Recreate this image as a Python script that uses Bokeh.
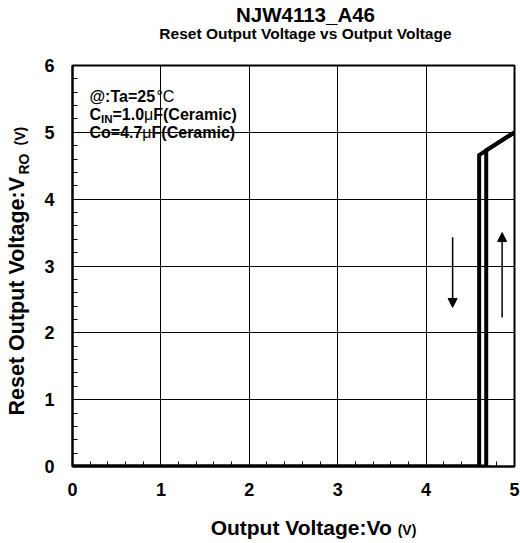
import math
from bokeh.plotting import figure
from bokeh.layouts import row, column
from bokeh.models import Range1d, SingleIntervalTicker, Label, Arrow, NormalHead
from bokeh.embed import file_html
from bokeh.resources import INLINE

# ---- data ----
title_text = "NJW4113_A46"
subtitle_text = "Reset Output Voltage vs Output Voltage"
x_label_text = "Output Voltage:Vo"
y_label_main = "Reset Output Voltage:V"
y_label_sub = "RO"
unit_text = "(V)"
cond_line1 = ["@:Ta=25", "°C"]
cond_line2 = ["C", "IN", "=1.0", "μ", "F(Ceramic)"]
cond_line3 = ["Co=4.7", "μ", "F(Ceramic)"]

x_range = [0, 5]
y_range = [0, 6]

# falling output voltage sweep (reset asserted at lower threshold)
vo_fall = [5.0, 4.60, 4.60, 0.0]
vro_fall = [5.0, 4.66, 0.0, 0.0]
# rising output voltage sweep (reset released at upper threshold)
vo_rise = [0.0, 4.68, 4.68, 5.0]
vro_rise = [0.0, 0.0, 4.73, 5.0]

# direction arrows
arrow_down_x = [4.30, 4.30]
arrow_down_y = [3.43, 2.38]
arrow_up_x = [4.86, 4.86]
arrow_up_y = [2.23, 3.50]

FONT = "Liberation Sans"

# ---- layout sizes (pixels) ----
W, H = 520, 543
LEFT_W = 40
TOP_H = 50
BOT_H = 33
MAIN_W = W - LEFT_W
MAIN_H = H - TOP_H - BOT_H
MID = 0.35  # distance from baseline to the 'middle' anchor, in em


def text_fig(w, h):
    f = figure(width=w, height=h, x_range=Range1d(0, w), y_range=Range1d(0, h),
               x_axis_type=None, y_axis_type=None, output_backend="svg",
               toolbar_location=None, title=None, min_border=0,
               min_border_left=0, min_border_right=0, min_border_top=0, min_border_bottom=0,
               outline_line_color=None, background_fill_color="white",
               border_fill_color="white")
    f.xgrid.visible = False
    f.ygrid.visible = False
    return f


def lab(fig, x, y, text, size, bold=True, angle=0.0, align="left", xo=0.0, yo=0.0):
    """(x, y) is the baseline start; converted to a 'middle' anchor."""
    if angle:
        xo = xo - MID * size
    else:
        yo = yo + MID * size
    fig.add_layout(Label(x=x, y=y, text=text, text_font=FONT, text_font_size=f"{size}px",
                         text_font_style="bold" if bold else "normal", text_color="black",
                         angle=angle, text_align=align, text_baseline="middle",
                         x_offset=xo, y_offset=yo))


# ---- main plot ----
p = figure(width=MAIN_W, height=MAIN_H, x_range=Range1d(*x_range), y_range=Range1d(*y_range),
           output_backend="svg", toolbar_location=None, title=None,
           min_border_left=32, min_border_right=6, min_border_top=15, min_border_bottom=44,
           background_fill_color="white", border_fill_color="white")

p.outline_line_color = "black"
p.outline_line_width = 2

for ax, standoff in ((p.xaxis[0], 16), (p.yaxis[0], 18)):
    ax.ticker = SingleIntervalTicker(interval=1, num_minor_ticks=5)
    ax.major_tick_in = 0
    ax.major_tick_out = 0
    ax.minor_tick_in = 5
    ax.minor_tick_out = 0
    ax.minor_tick_line_color = "black"
    ax.minor_tick_line_width = 1
    ax.axis_line_color = "black"
    ax.axis_line_width = 2
    ax.major_label_text_font = FONT
    ax.major_label_text_font_style = "bold"
    ax.major_label_text_font_size = "18px"
    ax.major_label_text_color = "black"
    ax.major_label_standoff = standoff

for g in (p.xgrid[0], p.ygrid[0]):
    g.grid_line_color = "black"
    g.grid_line_width = 1
    g.grid_line_alpha = 1.0

p.line(vo_fall, vro_fall, line_width=4, line_color="black", line_join="miter")
p.line(vo_rise, vro_rise, line_width=4, line_color="black", line_join="miter")

for xs, ys in ((arrow_down_x, arrow_down_y), (arrow_up_x, arrow_up_y)):
    p.add_layout(Arrow(end=NormalHead(size=9, fill_color="black", line_color="black"),
                       x_start=xs[0], y_start=ys[0], x_end=xs[1], y_end=ys[1],
                       line_width=1.5, line_color="black"))

# conditions (inside the frame)
cx = 0.192
lab(p, cx, 5.447, cond_line1[0], 16)
lab(p, cx, 5.447, cond_line1[1], 16, bold=False, xo=67)
lab(p, cx, 5.177, cond_line2[0], 16)
lab(p, cx, 5.177, cond_line2[1], 11.5, xo=11.5, yo=-3)
lab(p, cx, 5.177, cond_line2[2], 16, xo=23)
lab(p, cx, 5.177, cond_line2[3], 16, bold=False, xo=54.6)
lab(p, cx, 5.177, cond_line2[4], 16, xo=63.8)
lab(p, cx, 4.915, cond_line3[0], 16)
lab(p, cx, 4.915, cond_line3[1], 16, bold=False, xo=52.9)
lab(p, cx, 4.915, cond_line3[2], 16, xo=62.1)

# ---- title strip ----
t = text_fig(MAIN_W, TOP_H)
lab(t, 253, 29, title_text, 20.5, align="center")
lab(t, 253, 12, subtitle_text, 15.5, align="center")

# ---- x label strip ----
b = text_fig(MAIN_W, BOT_H)
lab(b, 150, 9, x_label_text, 21)
lab(b, 150, 9, unit_text, 14, xo=187)

# ---- y label strip ----
ya = math.pi / 2
l = text_fig(LEFT_W, H)
lab(l, 24, 128, y_label_main, 21.5, angle=ya)
lab(l, 24, 128, y_label_sub, 14, angle=ya, xo=4, yo=241)
lab(l, 24, 128, unit_text, 14, angle=ya, yo=270)

layout = row(l, column(t, p, b, spacing=0), spacing=0)

open("out.html", "w").write(file_html(layout, INLINE))
